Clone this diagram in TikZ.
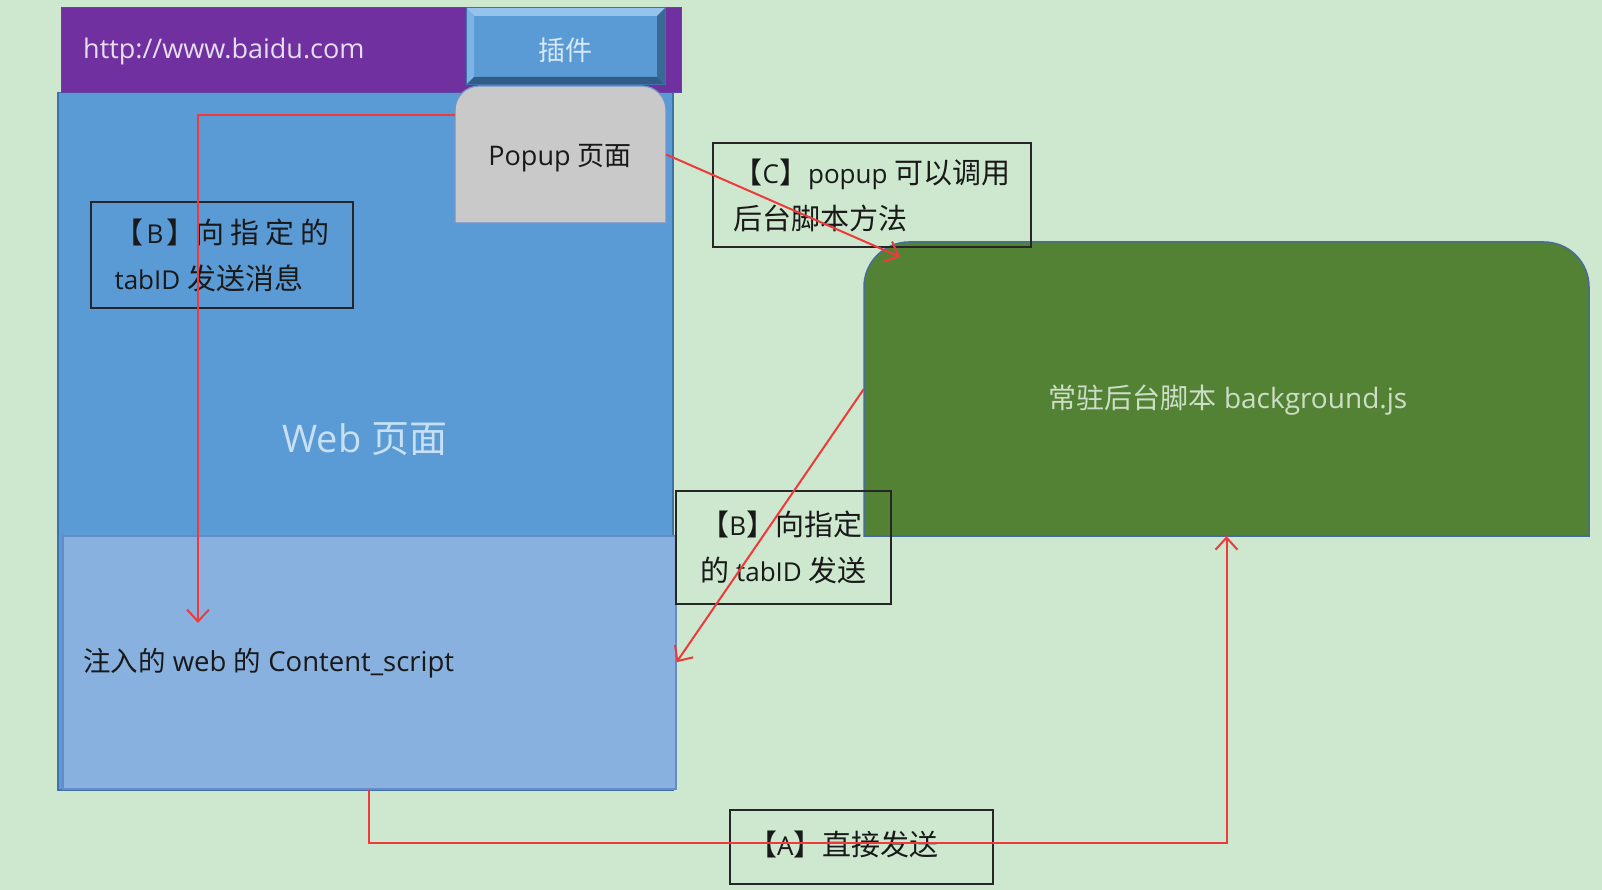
\documentclass[tikz,border=0pt]{standalone}
\usepackage{fontspec}
\setmainfont{Open Sans}
\newfontfamily\cjk{Noto Sans CJK SC}
\newcommand\zh[1]{{\cjk\fontsize{29}{46}\selectfont #1}}
\usetikzlibrary{arrows.meta,calc}
\definecolor{bgc}{RGB}{205,232,207}
\definecolor{purp}{RGB}{112,48,160}
\definecolor{purpedge}{RGB}{96,70,160}
\definecolor{webblue}{RGB}{91,155,213}
\definecolor{webedge}{RGB}{65,113,170}
\definecolor{csblue}{RGB}{136,177,223}
\definecolor{csedge}{RGB}{100,140,200}
\definecolor{popgray}{RGB}{201,201,201}
\definecolor{popedge}{RGB}{110,150,205}
\definecolor{bggreen}{RGB}{84,130,53}
\definecolor{greenedge}{RGB}{70,110,150}
\definecolor{redline}{RGB}{238,58,58}
\definecolor{btnface}{RGB}{91,155,213}
\definecolor{btntop}{RGB}{150,195,235}
\definecolor{btnleft}{RGB}{125,178,228}
\definecolor{btnright}{RGB}{58,105,150}
\definecolor{btnbottom}{RGB}{50,92,135}
\definecolor{urltext}{RGB}{228,222,240}
\definecolor{plugtext}{RGB}{215,232,248}
\definecolor{webtext}{RGB}{200,224,244}
\definecolor{bgtext}{RGB}{205,222,200}
\definecolor{labeltext}{RGB}{25,25,25}
\tikzset{
  lbl/.style={draw=black!85, line width=2pt, inner sep=0pt, align=left,
    text=labeltext, font=\fontsize{26}{46}\selectfont},
  conn/.style={draw=redline, line width=2pt,
    -{Straight Barb[length=12pt,width=22pt,line width=2pt]}},
  plain/.style={inner sep=0pt, font=\fontsize{27}{32}\selectfont},
}
\begin{document}
\begin{tikzpicture}[x=1pt,y=-1pt]
\useasboundingbox (0,0) rectangle (1602,890);
\fill[bgc] (0,0) rectangle (1602,890);

% web page
\node[draw=webedge, fill=webblue, line width=1.5pt, inner sep=0pt,
  minimum width=615pt, minimum height=697pt, anchor=north west] (web) at (57,92) {};
\node[draw=csedge, fill=csblue, line width=1.5pt, inner sep=0pt,
  minimum width=613pt, minimum height=253pt, anchor=north west] (cs) at (62,535) {};
\node[plain, text=webtext, font=\fontsize{38}{44}\selectfont] (webtxt) at (365,439) {Web {\cjk 页面}};
\node[plain, text=labeltext, anchor=west, font=\fontsize{27.5}{32}\selectfont] (cstxt) at (83,663) {{\cjk 注入的} web {\cjk 的} Content\_script};

% address bar
\node[draw=purpedge, fill=purp, line width=1pt, inner sep=0pt,
  minimum width=620pt, minimum height=85pt, anchor=north west] (bar) at (61,7) {};
\node[plain, text=urltext, anchor=west] (url) at (83,51) {http://www.baidu.com};

% plugin button
\fill[btnface] (466,8) rectangle (665,85);
\fill[btntop] (466,8) -- (665,8) -- (657,16) -- (474,16) -- cycle;
\fill[btnleft] (466,8) -- (474,16) -- (474,77) -- (466,85) -- cycle;
\fill[btnright] (665,8) -- (665,85) -- (657,77) -- (657,16) -- cycle;
\fill[btnbottom] (466,85) -- (665,85) -- (657,77) -- (474,77) -- cycle;
\draw[webedge, line width=1pt] (466,8) rectangle (665,85);
\node[plain, text=plugtext] (plugin) at (565,50) {\cjk 插件};

% popup
\filldraw[fill=popgray, draw=popedge, line width=1.2pt]
  (455,223) -- (455,110) arc[start angle=180, end angle=270, radius=24]
  -- (642,86) arc[start angle=270, end angle=360, radius=24] -- (666,223) -- cycle;
\node[inner sep=0pt, minimum width=211pt, minimum height=137pt] (popup) at (560.5,154.5) {};
\node[plain, text=labeltext, font=\fontsize{27}{32}\selectfont] (poptxt) at (560,158) {Popup {\cjk 页面}};

% background script
\filldraw[fill=bggreen, draw=greenedge, line width=1.5pt]
  (864,536) -- (864,287) arc[start angle=180, end angle=270, radius=45]
  -- (1544,242) arc[start angle=270, end angle=360, radius=45] -- (1589,536) -- cycle;
\node[inner sep=0pt, minimum width=725pt, minimum height=294pt] (bgs) at (1226.5,389) {};
\node[plain, text=bgtext, font=\fontsize{28}{32}\selectfont] (bgstxt) at (1228,400) {{\cjk 常驻后台脚本} background.js};

% label boxes
\node[lbl, minimum width=318pt, minimum height=104pt] (lblC) at (872,195)
  {\zh{【}C\zh{】}popup \zh{可以调用}\\\zh{后台脚本方法}};
\node[lbl, minimum width=262pt, minimum height=106pt] (lblB1) at (222,255)
  {\zh{【}\hspace{3pt}B\hspace{3pt}\zh{】}\zh{向\hspace{6pt}指\hspace{6pt}定\hspace{6pt}的}\\tabID \zh{发送消息}};
\node[lbl, minimum width=215pt, minimum height=113pt] (lblB2) at (783.5,547.5)
  {\zh{【}B\zh{】向指定}\\\zh{的} tabID \zh{发送}};
\node[lbl, minimum width=263pt, minimum height=74pt] (lblA) at (861.5,847) {};
\node[inner sep=0pt, anchor=west, text=labeltext, font=\fontsize{26}{46}\selectfont] (lblAtxt) at (748,844)
  {\zh{【}A\zh{】直接发送}};

% connectors
\coordinate (p1) at (455,115);
\coordinate (t1) at (198,623);
\coordinate (t2) at (900,257);
\draw[conn] (p1) -| (t1);
\draw[conn] (popup.east) -- (t2);
\draw[conn] (bgs.west) -- (cs.east);
\draw[conn] (cs.south) -- ++(0,53) -| (bgs.south);
\end{tikzpicture}
\end{document}
